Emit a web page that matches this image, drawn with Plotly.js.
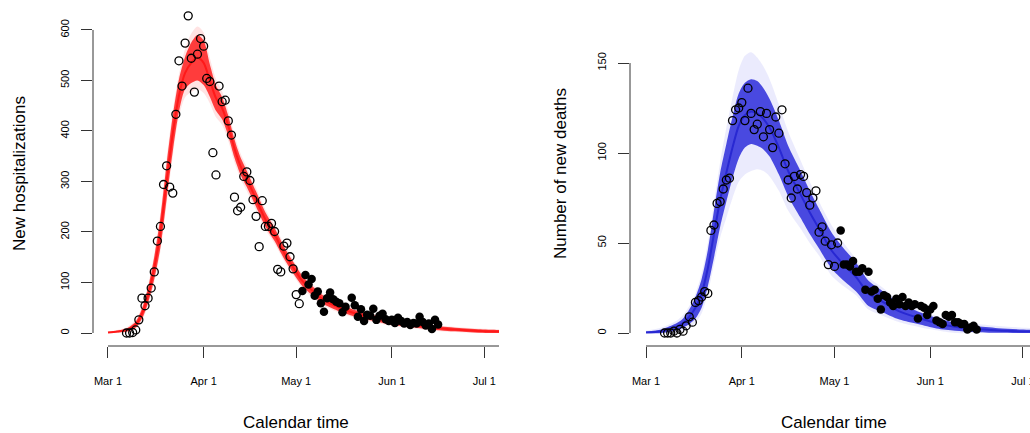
<!DOCTYPE html>
<html>
<head>
<meta charset="utf-8">
<script src="https://cdn.plot.ly/plotly-3.0.1.min.js"></script>
<style>html,body{margin:0;padding:0;background:#fff;}#chart{width:1030px;height:433px;}</style>
</head>
<body>
<div id="chart"></div>
<script>
// ---------- data (days counted from 1 March 2020) ----------
const startDate = '2020-03-01';
const tickDays = [0, 31, 61, 92, 122];
const tickLabels = ['Mar 1', 'Apr 1', 'May 1', 'Jun 1', 'Jul 1'];
const hospTicks = [0, 100, 200, 300, 400, 500, 600];
const deathTicks = [0, 50, 100, 150];

// observed hospitalizations, fitting period (open circles)
const hospFitDays = [6,7,8,9,10,11,12,13,14,15,16,17,18,19,20,21,22,23,24,25,26,27,28,29,30,31,32,33,34,35,36,37,38,39,40,41,42,43,44,45,46,47,48,49,50,51,52,53,54,55,56,57,58,59,60,61,62];
const hospFitVals = [0,0,1,6,26,69,54,69,89,121,182,211,294,331,289,277,433,539,489,574,628,544,477,552,583,568,504,498,357,313,489,458,461,420,392,269,242,249,310,319,302,264,231,171,262,211,211,217,201,126,121,172,178,151,127,76,58];
// observed hospitalizations, validation period (filled circles)
const hospValDays = [63,64,65,66,67,68,69,70,71,72,73,74,75,76,77,79,80,81,82,83,84,85,86,87,88,89,90,91,92,93,94,95,96,97,98,99,100,101,102,103,104,105,106,107];
const hospValVals = [83,115,96,107,74,82,59,42,69,80,67,62,59,41,52,70,55,32,47,24,36,34,48,26,34,38,27,24,26,20,30,24,19,22,16,20,19,32,22,15,19,8,26,17];

// simulated hospitalization trajectories: centre and spread
const hospBandDays = [0,3,6,9,11,13,15,17,19,21,23,25,27,29,31,33,35,37,39,41,43,45,48,51,54,57,60,63,66,70,75,80,85,90,95,100,105,110,115,120,127,132];
const hospMid = [1,3,6,17,38,75,129,200,300,395,470,515,535,545,535,500,465,445,410,365,330,305,265,225,195,160,130,103,85,65,50,39,31,24,19,15,11,8,6,4,3,2.5];
const hospCoreHalf = [1,1.5,3,6,10,15,22,30,35,35,32,32,40,45,44,32,25,22,20,18,17,16,15,14,13,12,11,10,9,8,7,6.5,6,5.5,5,4.5,4,4,3.5,3.5,3,3];
const hospHaloHalf = [2,3,5,9,14,20,28,38,45,45,42,48,58,62,60,45,38,33,30,27,25,24,22,20,18,17,15,14,13,11,10,9,8,7.5,7,6.5,6,5.5,5,5,4.5,4.5];

// observed deaths, fitting period (open circles)
const deathFitDays = [6,7,8,9,10,11,12,13,14,15,16,17,18,19,20,21,22,23,24,25,26,27,28,29,30,31,32,33,34,35,36,37,38,39,40,41,42,43,44,45,46,47,48,49,50,51,52,53,54,55,56,57,58,59,60,61,62];
const deathFitVals = [0,0,0,1,0,2,1,4,9,6,17,18,20,23,22,57,60,72,73,80,85,86,118,124,125,128,118,136,122,113,116,123,109,122,113,103,120,111,124,94,85,75,87,80,88,87,78,71,75,79,56,59,51,38,49,37,50];
// observed deaths, validation period (filled circles)
const deathValDays = [63,64,65,66,67,68,69,70,71,72,73,74,75,76,77,78,79,80,81,82,83,84,85,86,87,88,89,90,91,92,93,94,95,96,97,98,99,100,101,102,103,104,105,106,107];
const deathValVals = [57,38,38,37,40,34,34,36,24,34,23,24,19,13,21,20,17,15,19,16,20,15,17,15,16,8,15,14,10,13,15,7,6,5,10,9,10,6,6,5,5,2,3,4,2];

// simulated death trajectories: centre and spread
const deathBandDays = [0,5,10,12,14,16,18,20,22,24,26,28,30,32,34,36,38,40,43,46,50,53,56,60,64,68,72,76,82,88,94,100,106,114,124,130];
const deathMid = [0.3,1,3.5,5.5,9,14,22,36,55,74,89,103,115,121,123,122,119,114,103,90,77,67,58,46,38,31,22,18,12,8.5,5.5,3.5,2.3,1.4,0.8,0.6];
const deathCoreHalf = [0.5,1,2,2.5,4,6,8,10,13,15,16,17,18,18,18,18,17,16,15,14,13,12,11,10,9,8,7,6,4.5,3.5,3,2.2,1.7,1.3,1,1];
const deathHaloHalf = [1,2,3.5,4.5,6,8,11,14,17,21,25,28,31,33,33,31,29,27,24,22,19,17,15,14,12,10,9,8,6,5,4,3.5,3,2.5,2,2];

// ---------- helpers ----------
const W = 1030, H = 433;
const START = Date.parse(startDate + 'T00:00:00Z');
function toDate(d) {
  return new Date(START + d * 86400000).toISOString().slice(0, 19).replace('T', ' ');
}
const dates = arr => arr.map(toDate);

// panel geometry (pixels) and axis ranges (days / values)
const leftDom = [93 / W, 499 / W];
const rightDom = [630 / W, 1];
const yDom = [(H - 346) / H, (H - 2) / H];
const leftRangeDays = [-4.86, 126.74];
const rightRangeDays = [-5.18, 124.27];
const hospRange = [-25.74, 655.4];
const deathRange = [-7.22, 183.9];

const font = 'Liberation Sans, Arial, Helvetica, sans-serif';

function bandTraces(days, mid, half, color, xa, ya) {
  const lo = mid.map((v, i) => Math.max(0, v - half[i]));
  const hi = mid.map((v, i) => v + half[i]);
  const x = dates(days);
  return [
    {x, y: lo, xaxis: xa, yaxis: ya, mode: 'lines', line: {width: 0, shape: 'spline', smoothing: 0.8}, hoverinfo: 'skip', showlegend: false},
    {x, y: hi, xaxis: xa, yaxis: ya, mode: 'lines', fill: 'tonexty', fillcolor: color, line: {width: 0, shape: 'spline', smoothing: 0.8}, hoverinfo: 'skip', showlegend: false}
  ];
}
function pointTraces(fd, fv, vd, vv, xa, ya) {
  return [
    {x: dates(fd), y: fv, xaxis: xa, yaxis: ya, mode: 'markers', showlegend: false,
     marker: {symbol: 'circle-open', size: 8, color: '#000', line: {width: 1.3, color: '#000'}}},
    {x: dates(vd), y: vv, xaxis: xa, yaxis: ya, mode: 'markers', showlegend: false,
     marker: {symbol: 'circle', size: 8.5, color: '#000'}}
  ];
}

const data = [].concat(
  bandTraces(hospBandDays, hospMid, hospHaloHalf, 'rgba(255,80,80,0.16)', 'x', 'y'),
  bandTraces(hospBandDays, hospMid, hospCoreHalf, 'rgba(255,30,30,0.85)', 'x', 'y'),
  [{x: dates(hospBandDays), y: hospMid, xaxis: 'x', yaxis: 'y', mode: 'lines', line: {color: 'rgb(255,25,25)', width: 2, shape: 'spline', smoothing: 0.8}, hoverinfo: 'skip', showlegend: false}],
  pointTraces(hospFitDays, hospFitVals, hospValDays, hospValVals, 'x', 'y'),
  bandTraces(deathBandDays, deathMid, deathHaloHalf, 'rgba(90,90,235,0.12)', 'x2', 'y2'),
  bandTraces(deathBandDays, deathMid, deathCoreHalf, 'rgba(45,45,218,0.85)', 'x2', 'y2'),
  [{x: dates(deathBandDays), y: deathMid, xaxis: 'x2', yaxis: 'y2', mode: 'lines', line: {color: 'rgb(40,40,210)', width: 2, shape: 'spline', smoothing: 0.8}, hoverinfo: 'skip', showlegend: false}],
  pointTraces(deathFitDays, deathFitVals, deathValDays, deathValVals, 'x2', 'y2')
);

function xAxis(dom, rng, anchor) {
  return {
    domain: dom, anchor: anchor, type: 'date',
    range: [toDate(rng[0]), toDate(rng[1])],
    tickmode: 'array', tickvals: dates(tickDays), ticktext: tickLabels,
    ticks: 'outside', ticklen: 11, tickwidth: 1, tickcolor: '#333',
    ticklabelstandoff: 14, ticklabeloverflow: 'allow',
    tickfont: {family: font, size: 11, color: '#000'},
    showline: false, showgrid: false, zeroline: false, fixedrange: true
  };
}
function yAxis(rng, ticks, anchor) {
  return {
    domain: yDom, anchor: anchor, range: rng,
    tickmode: 'array', tickvals: ticks, ticktext: ticks.map(String),
    ticks: 'outside', ticklen: 11, tickwidth: 1, tickcolor: '#333',
    tickangle: -90, ticklabelstandoff: 8,
    tickfont: {family: font, size: 11, color: '#000'},
    showline: false, showgrid: false, zeroline: false, fixedrange: true
  };
}

// paper-coordinate mapping for the R-style axis lines
const px = (dom, rng, v) => dom[0] + (v - rng[0]) / (rng[1] - rng[0]) * (dom[1] - dom[0]);
function axisLines(xdom, xrng, yrng, yticks) {
  const st = {color: '#333', width: 1};
  return [
    {type: 'line', xref: 'paper', yref: 'paper', x0: px(xdom, xrng, tickDays[0]), x1: xdom[1], y0: yDom[0], y1: yDom[0], line: st},
    {type: 'line', xref: 'paper', yref: 'paper', x0: xdom[0], x1: xdom[0],
     y0: px(yDom, yrng, yticks[0]), y1: px(yDom, yrng, yticks[yticks.length - 1]), line: st}
  ];
}

const titleFont = {family: font, size: 17, color: '#000'};
const layout = {
  width: W, height: H,
  margin: {l: 0, r: 0, t: 0, b: 0},
  paper_bgcolor: '#fff', plot_bgcolor: '#fff',
  showlegend: false,
  xaxis: xAxis(leftDom, leftRangeDays, 'y'),
  yaxis: yAxis(hospRange, hospTicks, 'x'),
  xaxis2: xAxis(rightDom, rightRangeDays, 'y2'),
  yaxis2: yAxis(deathRange, deathTicks, 'x2'),
  shapes: [].concat(
    axisLines(leftDom, leftRangeDays, hospRange, hospTicks),
    axisLines(rightDom, rightRangeDays, deathRange, deathTicks)
  ),
  annotations: [
    {text: 'Calendar time', xref: 'paper', yref: 'paper', x: (leftDom[0] + leftDom[1]) / 2, y: (H - 422) / H,
     xanchor: 'center', yanchor: 'middle', showarrow: false, font: titleFont},
    {text: 'Calendar time', xref: 'paper', yref: 'paper', x: 834 / W, y: (H - 422) / H,
     xanchor: 'center', yanchor: 'middle', showarrow: false, font: titleFont},
    {text: 'New hospitalizations', xref: 'paper', yref: 'paper', x: 19 / W, y: (yDom[0] + yDom[1]) / 2,
     xanchor: 'center', yanchor: 'middle', textangle: -90, showarrow: false, font: titleFont},
    {text: 'Number of new deaths', xref: 'paper', yref: 'paper', x: 560 / W, y: (yDom[0] + yDom[1]) / 2,
     xanchor: 'center', yanchor: 'middle', textangle: -90, showarrow: false, font: titleFont}
  ]
};

Plotly.newPlot('chart', data, layout, {staticPlot: true, displayModeBar: false});
</script>
</body>
</html>
